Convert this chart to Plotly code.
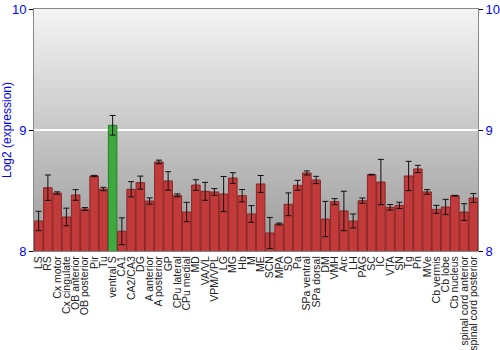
import plotly.graph_objects as go
import base64

regions = ["LS", "RS", "Cx motor", "Cx cingulate", "OB anterior", "OB posterior", "Pir", "Tu",
           "ventral S", "CA1", "CA2/CA3", "DG", "A anterior", "A posterior", "GP", "CPu lateral",
           "CPu medial", "MD", "VA/VL", "VPM/VPL", "LG", "MG", "Hb", "M", "ME", "SCN", "MPA", "SO",
           "Pa", "SPa ventral", "SPa dorsal", "DM", "VMH", "Arc", "LH", "PAG", "SC", "IC", "VTA",
           "SN", "Tg", "Pn", "MVe", "Cb vermis", "Cb lobe", "Cb nucleus", "spinal cord anterior",
           "spinal cord posterior"]

expression = [8.248, 8.523, 8.479, 8.281, 8.463, 8.347, 8.620, 8.512,
              9.039, 8.163, 8.510, 8.565, 8.413, 8.736, 8.579, 8.460,
              8.322, 8.545, 8.493, 8.488, 8.471, 8.603, 8.457, 8.306, 8.554, 8.149, 8.223, 8.386,
              8.543, 8.645, 8.587, 8.264, 8.408, 8.331, 8.248, 8.416, 8.631, 8.570, 8.361,
              8.377, 8.620, 8.678, 8.488, 8.344, 8.364, 8.457, 8.322,
              8.438]

error = [0.080, 0.105, 0.010, 0.073, 0.044, 0.012, 0.005, 0.014,
         0.081, 0.111, 0.063, 0.054, 0.026, 0.015, 0.076, 0.012,
         0.080, 0.044, 0.074, 0.028, 0.145, 0.044, 0.051, 0.069, 0.070, 0.128, 0.008, 0.094,
         0.041, 0.017, 0.030, 0.146, 0.025, 0.163, 0.058, 0.022, 0.003, 0.187, 0.023,
         0.026, 0.121, 0.030, 0.019, 0.033, 0.063, 0.003, 0.069,
         0.037]

highlight = "ventral S"

y_ticks = [8, 9, 10]

colors = ["#3eaa3e" if r == highlight else "#c23a3a" for r in regions]
edge = ["#2b7a2b" if r == highlight else "#8a2626" for r in regions]

svg = ("<svg xmlns='http://www.w3.org/2000/svg' width='100' height='100' preserveAspectRatio='none'>"
       "<defs><linearGradient id='g' x1='0' y1='0' x2='0' y2='1'>"
       "<stop offset='0' stop-color='#f4f4f4'/><stop offset='1' stop-color='#9a9a9a'/>"
       "</linearGradient></defs><rect width='100' height='100' fill='url(#g)'/></svg>")
bg_src = "data:image/svg+xml;base64," + base64.b64encode(svg.encode()).decode()

fig = go.Figure()

fig.add_trace(go.Bar(
    x=regions, y=expression,
    marker=dict(color=colors, line=dict(color=edge, width=1)),
    error_y=dict(type="data", array=error, color="#111111", thickness=1, width=3),
    width=0.92,
    showlegend=False,
))

fig.add_trace(go.Scatter(x=[regions[0]], y=[8], yaxis="y2", mode="markers",
                         marker=dict(opacity=0), showlegend=False, hoverinfo="skip"))

axis_font = dict(family="Liberation Sans, Arial, sans-serif", size=13, color="#0000ff")

fig.update_layout(
    width=500, height=350,
    margin=dict(l=34, r=22, t=9, b=99, autoexpand=False),
    paper_bgcolor="white",
    plot_bgcolor="rgba(0,0,0,0)",
    images=[dict(source=bg_src, xref="x domain", yref="y domain", x=0, y=1,
                 sizex=1, sizey=1, sizing="stretch", layer="below", xanchor="left", yanchor="top")],
    font=dict(family="Liberation Sans, Arial, sans-serif"),
    xaxis=dict(
        type="category", tickangle=-90, tickmode="array", tickvals=regions, ticktext=regions,
        tickfont=dict(family="Liberation Sans, Arial, sans-serif", size=10.5, color="#222222"),
        showgrid=False, ticks="", showline=True, linecolor="#888888", mirror=True,
        range=[-0.5, len(regions) - 0.5], automargin=False,
    ),
    yaxis=dict(
        range=[8, 10], tickvals=y_ticks, ticktext=[str(v) for v in y_ticks],
        tickfont=axis_font, ticks="outside", ticklen=4, tickcolor="#000000",
        showgrid=True, gridcolor="white", gridwidth=1.5,
        showline=True, linecolor="#888888", mirror=True, zeroline=False, automargin=False,
        title=dict(text="Log2 (expression)", font=dict(family="Liberation Sans, Arial, sans-serif", size=12, color="#0000ff"), standoff=6),
    ),
    yaxis2=dict(
        range=[8, 10], tickvals=y_ticks, overlaying="y", side="right",
        tickfont=axis_font, ticks="outside", ticklen=4, tickcolor="#000000",
        showgrid=False, zeroline=False, showline=False, automargin=False,
    ),
)

fig.write_html("out.html")
